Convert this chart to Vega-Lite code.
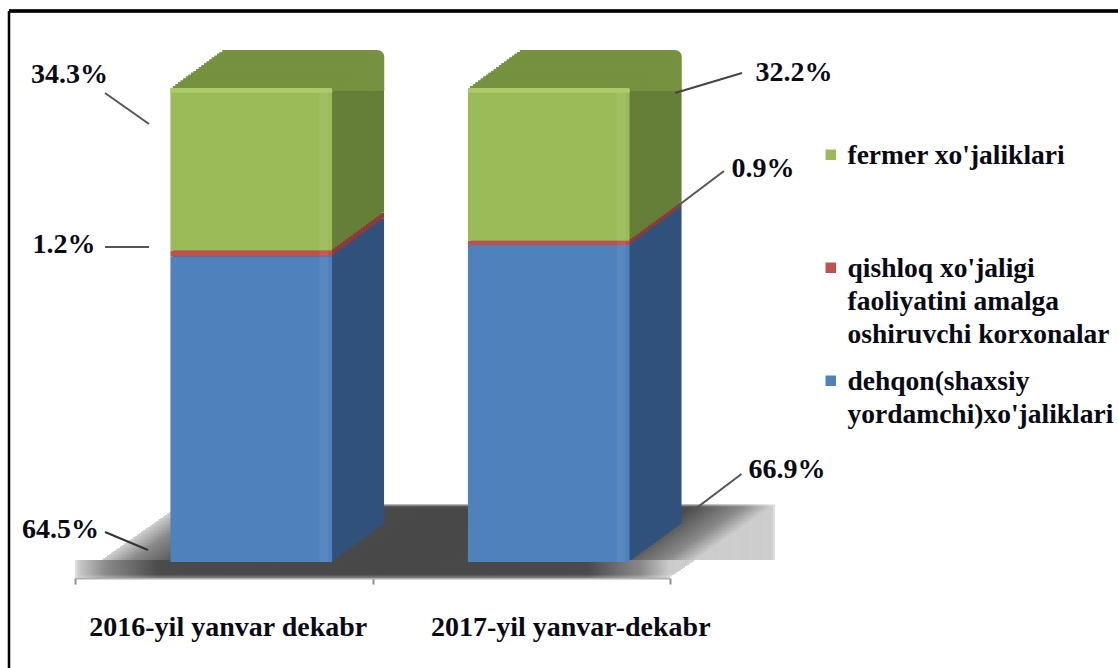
{"$schema":"https://vega.github.io/schema/vega-lite/v6.json","width":1109,"height":657,"autosize":"none","padding":{"left":9,"top":11,"right":0,"bottom":0},"background":"white","config":{"view":{"stroke":null},"text":{"font":"Liberation Serif","fontWeight":"bold","fontSize":28,"color":"#0a0a14"}},
"data":{"values":[
{"year":"2016-yil yanvar dekabr","series":"dehqon(shaxsiy yordamchi)xo'jaliklari","value":64.5,"label":"64.5%","rank":1},
{"year":"2016-yil yanvar dekabr","series":"qishloq xo'jaligi faoliyatini amalga oshiruvchi korxonalar","value":1.2,"label":"1.2%","rank":2},
{"year":"2016-yil yanvar dekabr","series":"fermer xo'jaliklari","value":34.3,"label":"34.3%","rank":3},
{"year":"2017-yil yanvar-dekabr","series":"dehqon(shaxsiy yordamchi)xo'jaliklari","value":66.9,"label":"66.9%","rank":1},
{"year":"2017-yil yanvar-dekabr","series":"qishloq xo'jaligi faoliyatini amalga oshiruvchi korxonalar","value":0.9,"label":"0.9%","rank":2},
{"year":"2017-yil yanvar-dekabr","series":"fermer xo'jaliklari","value":32.2,"label":"32.2%","rank":3}
]},
"encoding":{"x":{"field":"year","type":"nominal","title":null,"scale":{"domain":["2016-yil yanvar dekabr","2017-yil yanvar-dekabr"],"range":[66,661],"paddingInner":0,"paddingOuter":0},"axis":{"offset":-90,"labelAngle":0,"labelFont":"Liberation Serif","labelFontWeight":"bold","labelFontSize":28,"labelColor":"#0a0a14","labelLimit":500,"labelPadding":29,"labelOffset":{"condition":{"test":"datum.value=='2016-yil yanvar dekabr'","value":4},"value":49},"tickBand":"extent","tickSize":6,"tickColor":"#909090","tickWidth":2,"domainColor":"#b0b0b0","domainWidth":2,"grid":false}}},
"layer":[
{"transform":[{"filter":"datum.label=='34.3%'"}],"mark":{"type":"rule","xOffset":-214.75,"stroke":"#000000","strokeWidth":2.5}},
{"mark":{"type":"rule","yOffset":-77,"stroke":"#000000","strokeWidth":2.5},"encoding":{"x":null,"y":{"datum":100,"type":"quantitative","title":null,"axis":null,"scale":{"domain":[0,100],"range":[551,77],"nice":false,"zero":false}}}},
{"encoding":{"y":{"datum":0,"type":"quantitative","title":null,"axis":null,"scale":{"domain":[0,100],"range":[551,77],"nice":false,"zero":false}},"y2":{"datum":0.42},"fill":{"condition":{"test":"datum.year=='2016-yil yanvar dekabr'","value":{"gradient":"linear","x1":0,"x2":1,"y1":0,"y2":0,"stops":[{"offset":0,"color":"#cfcfcf"},{"offset":0.1,"color":"#8a8a8a"},{"offset":0.28,"color":"#4a4a4a"},{"offset":1,"color":"#484848"}]}},"value":{"gradient":"linear","x1":0,"x2":1,"y1":0,"y2":0,"stops":[{"offset":0,"color":"#484848"},{"offset":0.72,"color":"#4a4a4a"},{"offset":0.9,"color":"#8a8a8a"},{"offset":1,"color":"#cfcfcf"}]}}},
"layer":[
{"mark":{"type":"rect","xOffset":105,"yOffset":-57.5,"opacity":0.3}},
{"mark":{"type":"rect","xOffset":102.86,"yOffset":-56,"opacity":0.4}},
{"mark":{"type":"rect","xOffset":100.71,"yOffset":-54.5,"opacity":0.5}},
{"mark":{"type":"rect","xOffset":98.57,"yOffset":-53,"opacity":0.6}},
{"mark":{"type":"rect","xOffset":96.43,"yOffset":-51.5,"opacity":0.7}},
{"mark":{"type":"rect","xOffset":94.29,"yOffset":-50,"opacity":0.8}},
{"mark":{"type":"rect","xOffset":92.14,"yOffset":-48.5,"opacity":0.9}},
{"mark":{"type":"rect","xOffset":90,"yOffset":-47}},
{"mark":{"type":"rect","xOffset":87.86,"yOffset":-45.5}},
{"mark":{"type":"rect","xOffset":85.71,"yOffset":-44}},
{"mark":{"type":"rect","xOffset":83.57,"yOffset":-42.5}},
{"mark":{"type":"rect","xOffset":81.43,"yOffset":-41}},
{"mark":{"type":"rect","xOffset":79.29,"yOffset":-39.5}},
{"mark":{"type":"rect","xOffset":77.14,"yOffset":-38}},
{"mark":{"type":"rect","xOffset":75,"yOffset":-36.5}},
{"mark":{"type":"rect","xOffset":72.86,"yOffset":-35}},
{"mark":{"type":"rect","xOffset":70.71,"yOffset":-33.5}},
{"mark":{"type":"rect","xOffset":68.57,"yOffset":-32}},
{"mark":{"type":"rect","xOffset":66.43,"yOffset":-30.5}},
{"mark":{"type":"rect","xOffset":64.29,"yOffset":-29}},
{"mark":{"type":"rect","xOffset":62.14,"yOffset":-27.5}},
{"mark":{"type":"rect","xOffset":60,"yOffset":-26}},
{"mark":{"type":"rect","xOffset":57.86,"yOffset":-24.5}},
{"mark":{"type":"rect","xOffset":55.71,"yOffset":-23}},
{"mark":{"type":"rect","xOffset":53.57,"yOffset":-21.5}},
{"mark":{"type":"rect","xOffset":51.43,"yOffset":-20}},
{"mark":{"type":"rect","xOffset":49.29,"yOffset":-18.5}},
{"mark":{"type":"rect","xOffset":47.14,"yOffset":-17}},
{"mark":{"type":"rect","xOffset":45,"yOffset":-15.5}},
{"mark":{"type":"rect","xOffset":42.86,"yOffset":-14}},
{"mark":{"type":"rect","xOffset":40.71,"yOffset":-12.5}},
{"mark":{"type":"rect","xOffset":38.57,"yOffset":-11}},
{"mark":{"type":"rect","xOffset":36.43,"yOffset":-9.5}},
{"mark":{"type":"rect","xOffset":34.29,"yOffset":-8}},
{"mark":{"type":"rect","xOffset":32.14,"yOffset":-6.5}},
{"mark":{"type":"rect","xOffset":30,"yOffset":-5}},
{"mark":{"type":"rect","xOffset":27.86,"yOffset":-3.5}},
{"mark":{"type":"rect","xOffset":25.71,"yOffset":-2}},
{"mark":{"type":"rect","xOffset":23.57,"yOffset":-0.5}},
{"mark":{"type":"rect","xOffset":21.43,"yOffset":1}},
{"mark":{"type":"rect","xOffset":19.29,"yOffset":2.5}},
{"mark":{"type":"rect","xOffset":17.14,"yOffset":4}},
{"mark":{"type":"rect","xOffset":15,"yOffset":5.5,"opacity":0.92}},
{"mark":{"type":"rect","xOffset":12.86,"yOffset":7,"opacity":0.85}},
{"mark":{"type":"rect","xOffset":10.71,"yOffset":8.5,"opacity":0.75}},
{"mark":{"type":"rect","xOffset":8.57,"yOffset":10,"opacity":0.65}},
{"mark":{"type":"rect","xOffset":6.43,"yOffset":11.5,"opacity":0.55}},
{"mark":{"type":"rect","xOffset":4.29,"yOffset":13,"opacity":0.45}},
{"mark":{"type":"rect","xOffset":2.14,"yOffset":14.5,"opacity":0.35}},
{"mark":{"type":"rect","xOffset":0,"yOffset":16,"opacity":0.3}}
]},
{"encoding":{"y":{"field":"value","type":"quantitative","title":null,"stack":"zero","axis":null,"scale":{"domain":[0,100],"range":[551,77],"nice":false,"zero":false}},"fill":{"field":"series","type":"nominal","legend":null,"scale":{"domain":["dehqon(shaxsiy yordamchi)xo'jaliklari","qishloq xo'jaligi faoliyatini amalga oshiruvchi korxonalar","fermer xo'jaliklari"],"range":["#30527c","#8e3a38","#667f38"]}},"order":{"field":"rank","type":"quantitative"}},
"layer":[
{"mark":{"type":"bar","width":{"band":0.5445},"xOffset":79.5,"yOffset":-38,"cornerRadiusTopRight":{"expr":"datum.rank==3?7:0"},"cornerRadiusBottomRight":{"expr":"datum.rank==1?5:0"}}},
{"mark":{"type":"bar","width":{"band":0.5445},"xOffset":76.9,"yOffset":-36.1}},
{"mark":{"type":"bar","width":{"band":0.5445},"xOffset":74.3,"yOffset":-34.2}},
{"mark":{"type":"bar","width":{"band":0.5445},"xOffset":71.7,"yOffset":-32.3}},
{"mark":{"type":"bar","width":{"band":0.5445},"xOffset":69.1,"yOffset":-30.4}},
{"mark":{"type":"bar","width":{"band":0.5445},"xOffset":66.5,"yOffset":-28.5}},
{"mark":{"type":"bar","width":{"band":0.5445},"xOffset":63.9,"yOffset":-26.6}},
{"mark":{"type":"bar","width":{"band":0.5445},"xOffset":61.3,"yOffset":-24.7}},
{"mark":{"type":"bar","width":{"band":0.5445},"xOffset":58.7,"yOffset":-22.8}},
{"mark":{"type":"bar","width":{"band":0.5445},"xOffset":56.1,"yOffset":-20.9}},
{"mark":{"type":"bar","width":{"band":0.5445},"xOffset":53.5,"yOffset":-19}},
{"mark":{"type":"bar","width":{"band":0.5445},"xOffset":50.9,"yOffset":-17.1}},
{"mark":{"type":"bar","width":{"band":0.5445},"xOffset":48.3,"yOffset":-15.2}},
{"mark":{"type":"bar","width":{"band":0.5445},"xOffset":45.7,"yOffset":-13.3}},
{"mark":{"type":"bar","width":{"band":0.5445},"xOffset":43.1,"yOffset":-11.4}},
{"mark":{"type":"bar","width":{"band":0.5445},"xOffset":40.5,"yOffset":-9.5}},
{"mark":{"type":"bar","width":{"band":0.5445},"xOffset":37.9,"yOffset":-7.6}},
{"mark":{"type":"bar","width":{"band":0.5445},"xOffset":35.3,"yOffset":-5.7}},
{"mark":{"type":"bar","width":{"band":0.5445},"xOffset":32.7,"yOffset":-3.8}},
{"mark":{"type":"bar","width":{"band":0.5445},"xOffset":30.1,"yOffset":-1.9}}
]},
{"transform":[{"filter":"datum.rank==3"}],"encoding":{"y":{"datum":100,"type":"quantitative","title":null,"axis":null,"scale":{"domain":[0,100],"range":[551,77],"nice":false,"zero":false}},"y2":{"datum":99.4}},
"layer":[
{"mark":{"type":"bar","fill":"#76913f","width":{"band":0.5445},"xOffset":79.5,"yOffset":-38,"cornerRadiusTopRight":7}},
{"mark":{"type":"bar","fill":"#76913f","width":{"band":0.5445},"xOffset":76.9,"yOffset":-36.1}},
{"mark":{"type":"bar","fill":"#76913f","width":{"band":0.5445},"xOffset":74.3,"yOffset":-34.2}},
{"mark":{"type":"bar","fill":"#76913f","width":{"band":0.5445},"xOffset":71.7,"yOffset":-32.3}},
{"mark":{"type":"bar","fill":"#76913f","width":{"band":0.5445},"xOffset":69.1,"yOffset":-30.4}},
{"mark":{"type":"bar","fill":"#76913f","width":{"band":0.5445},"xOffset":66.5,"yOffset":-28.5}},
{"mark":{"type":"bar","fill":"#76913f","width":{"band":0.5445},"xOffset":63.9,"yOffset":-26.6}},
{"mark":{"type":"bar","fill":"#76913f","width":{"band":0.5445},"xOffset":61.3,"yOffset":-24.7}},
{"mark":{"type":"bar","fill":"#76913f","width":{"band":0.5445},"xOffset":58.7,"yOffset":-22.8}},
{"mark":{"type":"bar","fill":"#76913f","width":{"band":0.5445},"xOffset":56.1,"yOffset":-20.9}},
{"mark":{"type":"bar","fill":"#76913f","width":{"band":0.5445},"xOffset":53.5,"yOffset":-19}},
{"mark":{"type":"bar","fill":"#76913f","width":{"band":0.5445},"xOffset":50.9,"yOffset":-17.1}},
{"mark":{"type":"bar","fill":"#76913f","width":{"band":0.5445},"xOffset":48.3,"yOffset":-15.2}},
{"mark":{"type":"bar","fill":"#76913f","width":{"band":0.5445},"xOffset":45.7,"yOffset":-13.3}},
{"mark":{"type":"bar","fill":"#76913f","width":{"band":0.5445},"xOffset":43.1,"yOffset":-11.4}},
{"mark":{"type":"bar","fill":"#76913f","width":{"band":0.5445},"xOffset":40.5,"yOffset":-9.5}},
{"mark":{"type":"bar","fill":"#76913f","width":{"band":0.5445},"xOffset":37.9,"yOffset":-7.6}},
{"mark":{"type":"bar","fill":"#76913f","width":{"band":0.5445},"xOffset":35.3,"yOffset":-5.7}},
{"mark":{"type":"bar","fill":"#76913f","width":{"band":0.5445},"xOffset":32.7,"yOffset":-3.8}},
{"mark":{"type":"bar","fill":"#76913f","width":{"band":0.5445},"xOffset":30.1,"yOffset":-1.9}}
]},
{"mark":{"type":"bar","width":{"band":0.5445},"xOffset":27.5,"cornerRadiusTopLeft":{"expr":"datum.rank==3?6:0"},"cornerRadiusTopRight":{"expr":"datum.rank==3?6:0"},"cornerRadiusBottomLeft":{"expr":"datum.rank==1?5:0"},"cornerRadiusBottomRight":{"expr":"datum.rank==1?5:0"}},"encoding":{"y":{"field":"value","type":"quantitative","title":null,"stack":"zero","axis":null,"scale":{"domain":[0,100],"range":[551,77],"nice":false,"zero":false}},"order":{"field":"rank","type":"quantitative"},"color":{"field":"series","type":"nominal","title":null,"scale":{"domain":["fermer xo'jaliklari","qishloq xo'jaligi faoliyatini amalga oshiruvchi korxonalar","dehqon(shaxsiy yordamchi)xo'jaliklari"],"range":["#9bbb59","#c0504d","#4f81bd"]},"legend":{"orient":"none","legendX":808,"legendY":130,"symbolType":"square","symbolSize":110,"symbolOpacity":1,"labelFont":"Liberation Serif","labelFontWeight":"bold","labelFontSize":27.5,"labelColor":"#0a0a14","labelLimit":400,"labelOffset":3,"labelBaseline":"top","rowPadding":18,"labelExpr":"indexof(datum.label,'qishloq')==0?[\"qishloq xo'jaligi\",\"faoliyatini amalga\",\"oshiruvchi korxonalar\"]:indexof(datum.label,'dehqon')==0?[\"dehqon(shaxsiy\",\"yordamchi)xo'jaliklari\"]:[\"fermer xo'jaliklari\",\" \",\" \"]","encode":{"labels":{"update":{"lineHeight":{"value":33},"dy":{"value":-13}}}}}}}},
{"mark":{"type":"bar","width":{"band":0.03},"xOffset":100,"fill":"#ffffff","opacity":0.06},"encoding":{"y":{"field":"value","type":"quantitative","title":null,"stack":"zero","axis":null,"scale":{"domain":[0,100],"range":[551,77],"nice":false,"zero":false}},"order":{"field":"rank","type":"quantitative"},"detail":{"field":"series"}}},
{"transform":[{"filter":"datum.rank==3"}],"mark":{"type":"bar","fill":"#aecb6b","width":{"band":0.5445},"xOffset":27.5,"cornerRadiusTopLeft":6,"cornerRadiusTopRight":6},"encoding":{"y":{"datum":100,"type":"quantitative","title":null,"axis":null,"scale":{"domain":[0,100],"range":[551,77],"nice":false,"zero":false}},"y2":{"datum":99}}},
{"transform":[{"filter":"datum.label=='34.3%'"}],"mark":{"type":"text","xOffset":-154.25,"yOffset":-324.4},"encoding":{"y":{"field":"value","type":"quantitative","stack":null,"axis":null,"title":null,"scale":{"domain":[0,100],"range":[551,77],"nice":false,"zero":false}},"text":{"field":"label"}}},
{"transform":[{"filter":"datum.label=='1.2%'"}],"mark":{"type":"text","xOffset":-159.75,"yOffset":-311.3},"encoding":{"y":{"field":"value","type":"quantitative","stack":null,"axis":null,"title":null,"scale":{"domain":[0,100],"range":[551,77],"nice":false,"zero":false}},"text":{"field":"label"}}},
{"transform":[{"filter":"datum.label=='64.5%'"}],"mark":{"type":"text","xOffset":-163.25,"yOffset":273.7},"encoding":{"y":{"field":"value","type":"quantitative","stack":null,"axis":null,"title":null,"scale":{"domain":[0,100],"range":[551,77],"nice":false,"zero":false}},"text":{"field":"label"}}},
{"transform":[{"filter":"datum.label=='32.2%'"}],"mark":{"type":"text","xOffset":272.75,"yOffset":-336.4},"encoding":{"y":{"field":"value","type":"quantitative","stack":null,"axis":null,"title":null,"scale":{"domain":[0,100],"range":[551,77],"nice":false,"zero":false}},"text":{"field":"label"}}},
{"transform":[{"filter":"datum.label=='0.9%'"}],"mark":{"type":"text","xOffset":241.75,"yOffset":-388.7},"encoding":{"y":{"field":"value","type":"quantitative","stack":null,"axis":null,"title":null,"scale":{"domain":[0,100],"range":[551,77],"nice":false,"zero":false}},"text":{"field":"label"}}},
{"transform":[{"filter":"datum.label=='66.9%'"}],"mark":{"type":"text","xOffset":265.75,"yOffset":225.1},"encoding":{"y":{"field":"value","type":"quantitative","stack":null,"axis":null,"title":null,"scale":{"domain":[0,100],"range":[551,77],"nice":false,"zero":false}},"text":{"field":"label"}}},
{"transform":[{"filter":"datum.label=='34.3%'"}],"mark":{"type":"point","shape":"M-22,-15.5L22,15.5","size":4,"stroke":"#555555","strokeWidth":2,"filled":false,"opacity":1,"xOffset":-96.75,"yOffset":-290.9},"encoding":{"y":{"field":"value","type":"quantitative","stack":null,"axis":null,"title":null,"scale":{"domain":[0,100],"range":[551,77],"nice":false,"zero":false}}}},
{"transform":[{"filter":"datum.label=='1.2%'"}],"mark":{"type":"point","shape":"M-22,0L22,0","size":4,"stroke":"#555555","strokeWidth":2,"filled":false,"opacity":1,"xOffset":-96.75,"yOffset":-309.3},"encoding":{"y":{"field":"value","type":"quantitative","stack":null,"axis":null,"title":null,"scale":{"domain":[0,100],"range":[551,77],"nice":false,"zero":false}}}},
{"transform":[{"filter":"datum.label=='64.5%'"}],"mark":{"type":"point","shape":"M-21.5,-9L21.5,9","size":4,"stroke":"#333333","strokeWidth":2,"filled":false,"opacity":1,"xOffset":-97.25,"yOffset":284.7},"encoding":{"y":{"field":"value","type":"quantitative","stack":null,"axis":null,"title":null,"scale":{"domain":[0,100],"range":[551,77],"nice":false,"zero":false}}}},
{"transform":[{"filter":"datum.label=='32.2%'"}],"mark":{"type":"point","shape":"M-33.5,10L33.5,-10","size":4,"stroke":"#444444","strokeWidth":2,"filled":false,"opacity":1,"xOffset":187.25,"yOffset":-326.4},"encoding":{"y":{"field":"value","type":"quantitative","stack":null,"axis":null,"title":null,"scale":{"domain":[0,100],"range":[551,77],"nice":false,"zero":false}}}},
{"transform":[{"filter":"datum.label=='0.9%'"}],"mark":{"type":"point","shape":"M-24.5,18.5L24.5,-18.5","size":4,"stroke":"#555555","strokeWidth":2,"filled":false,"opacity":1,"xOffset":178.25,"yOffset":-368.2},"encoding":{"y":{"field":"value","type":"quantitative","stack":null,"axis":null,"title":null,"scale":{"domain":[0,100],"range":[551,77],"nice":false,"zero":false}}}},
{"transform":[{"filter":"datum.label=='66.9%'"}],"mark":{"type":"point","shape":"M-24.5,18.5L24.5,-18.5","size":4,"stroke":"#555555","strokeWidth":2,"filled":false,"opacity":1,"xOffset":195.75,"yOffset":247.6},"encoding":{"y":{"field":"value","type":"quantitative","stack":null,"axis":null,"title":null,"scale":{"domain":[0,100],"range":[551,77],"nice":false,"zero":false}}}}
]}
